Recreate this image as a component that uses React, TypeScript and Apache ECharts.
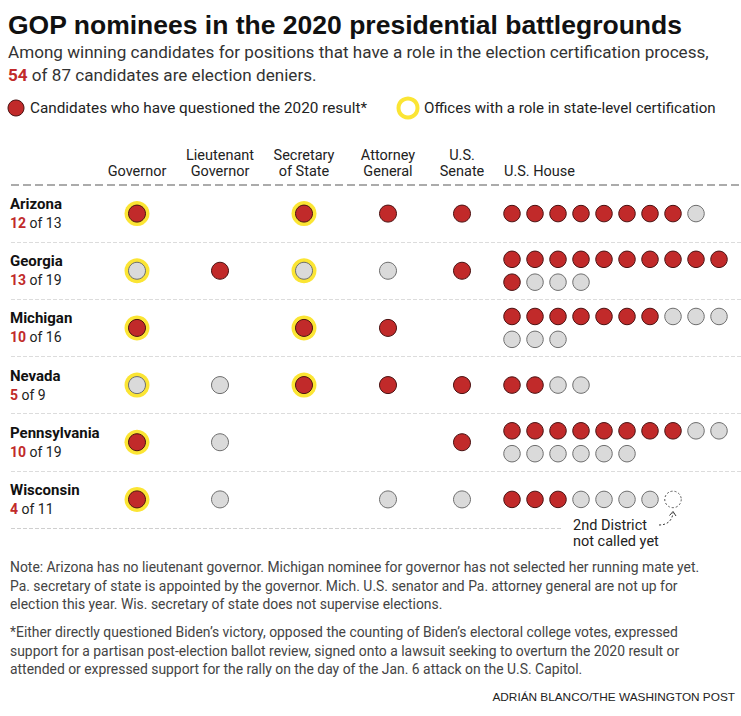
import React, { useEffect, useRef } from 'react';
import * as echarts from 'echarts';

// ---------- data ----------
const STATES = ['Arizona', 'Georgia', 'Michigan', 'Nevada', 'Pennsylvania', 'Wisconsin'];
const DENIERS = [12, 13, 10, 5, 10, 4];
const TOTALS = [13, 19, 16, 9, 19, 11];
const OFFICES = ['Governor', 'Lieutenant\nGovernor', 'Secretary\nof State', 'Attorney\nGeneral', 'U.S.\nSenate'];
// 'R' = questioned 2020 result, 'N' = did not, '' = no candidate
const GOVERNOR = ['R', 'N', 'R', 'N', 'R', 'R'];
const LT_GOVERNOR = ['', 'R', '', 'N', 'N', 'N'];
const SECRETARY = ['R', 'N', 'R', 'R', '', ''];
const ATTORNEY = ['R', 'N', 'R', 'R', '', 'N'];
const SENATE = ['R', 'R', '', 'R', 'R', 'N'];
const OFFICE_STATUS = [GOVERNOR, LT_GOVERNOR, SECRETARY, ATTORNEY, SENATE];
const CERTIFYING = [true, false, true, false, false];
const HOUSE_DENIERS = [8, 11, 7, 2, 8, 3];
const HOUSE_OTHERS = [1, 3, 6, 2, 8, 4];
const HOUSE_UNCALLED = [0, 0, 0, 0, 0, 1];

// ---------- layout & style ----------
const OFFICE_X = [137, 220, 304, 388, 462];
const HOUSE_X0 = 512;
const HOUSE_DX = 23;
const HOUSE_PER_ROW = 10;
const SUBROW = 0.4;
const RED = '#c12a2a';
const RED_STROKE = '#4a1212';
const GRAY = '#dadada';
const GRAY_STROKE = '#6e6e6e';
const YELLOW = '#fbe534';
const BODY = 'Roboto, "Noto Sans", sans-serif';
const NARROW = '"Liberation Sans Narrow", "Liberation Sans", sans-serif';

function buildOption() {
  const rings: number[][] = [];
  const officeRed: number[][] = [];
  const officeGray: number[][] = [];
  OFFICE_STATUS.forEach((col, o) => {
    col.forEach((s, i) => {
      if (!s) return;
      const p = [OFFICE_X[o], i + 0.5];
      if (CERTIFYING[o]) rings.push(p);
      (s === 'R' ? officeRed : officeGray).push(p);
    });
  });
  const houseRed: number[][] = [];
  const houseGray: number[][] = [];
  const houseUncalled: number[][] = [];
  STATES.forEach((_, i) => {
    const list: string[] = [];
    for (let k = 0; k < HOUSE_DENIERS[i]; k++) list.push('R');
    for (let k = 0; k < HOUSE_OTHERS[i]; k++) list.push('N');
    for (let k = 0; k < HOUSE_UNCALLED[i]; k++) list.push('U');
    const rows = Math.ceil(list.length / HOUSE_PER_ROW);
    list.forEach((s, j) => {
      const c = j % HOUSE_PER_ROW;
      const r = Math.floor(j / HOUSE_PER_ROW);
      const p = [HOUSE_X0 + c * HOUSE_DX, i + 0.5 + (r - (rows - 1) / 2) * SUBROW];
      (s === 'R' ? houseRed : s === 'N' ? houseGray : houseUncalled).push(p);
    });
  });

  const totalDeniers = DENIERS.reduce((a, b) => a + b, 0);
  const totalCands = TOTALS.reduce((a, b) => a + b, 0);

  const sepLines: any[] = [];
  for (let k = 0; k <= STATES.length; k++) {
    if (k === 0) {
      sepLines.push([{ coord: [11, k], lineStyle: { color: '#ababab', width: 2 } }, { coord: [741, k] }]);
    } else if (k === STATES.length) {
      sepLines.push([{ coord: [11, k], lineStyle: { color: '#cfcfcf', width: 1 } }, { coord: [562, k] }]);
    } else {
      sepLines.push([{ coord: [11, k], lineStyle: { color: '#dcdcdc', width: 1 } }, { coord: [741, k] }]);
    }
  }

  const txt = (x: number, y: number, text: string, extra: any = {}) => ({
    type: 'text',
    x,
    y,
    silent: true,
    style: {
      text,
      fill: extra.fill || '#222',
      fontFamily: extra.fontFamily || BODY,
      fontSize: extra.fontSize || 14,
      fontWeight: extra.fontWeight || 'normal',
      align: extra.align || 'left',
      textAlign: extra.align || 'left',
      verticalAlign: extra.verticalAlign || 'middle',
      textVerticalAlign: extra.verticalAlign || 'middle',
      lineHeight: extra.lineHeight,
      rich: extra.rich,
    },
  });

  const NOTE_LH = 18.5;
  const graphic: any[] = [
    txt(8, 25, 'GOP nominees in the 2020 presidential battlegrounds', {
      fontFamily: NARROW, fontSize: 26.5, fontWeight: 'bold', fill: '#111',
    }),
    txt(8, 52, 'Among winning candidates for positions that have a role in the election certification process,', {
      fontSize: 17.1, fill: '#333',
    }),
    txt(8, 75, `{red|${totalDeniers}} of ${totalCands} candidates are election deniers.`, {
      fontSize: 17.1, fill: '#333',
      rich: { red: { fill: RED, color: RED, fontWeight: 'bold', fontSize: 17.1, fontFamily: BODY } },
    }),
    { type: 'circle', silent: true, shape: { cx: 16, cy: 108, r: 8 }, style: { fill: RED, stroke: RED_STROKE, lineWidth: 1 } },
    txt(30, 108, 'Candidates who have questioned the 2020 result*', { fontSize: 15.3, fill: '#222' }),
    { type: 'circle', silent: true, shape: { cx: 408, cy: 108, r: 9.5 }, style: { fill: 'none', stroke: YELLOW, lineWidth: 4 } },
    txt(424, 108, 'Offices with a role in state-level certification', { fontSize: 15.1, fill: '#222' }),
    ...OFFICES.map((o, k) => txt(OFFICE_X[k], 179, o, { align: 'center', verticalAlign: 'bottom', fontSize: 14.5, lineHeight: 16, fill: '#222' })),
    txt(504, 179, 'U.S. House', { verticalAlign: 'bottom', fontSize: 14.5, lineHeight: 16, fill: '#222' }),
    txt(573, 517, '2nd District\nnot called yet', { verticalAlign: 'top', fontSize: 14.5, lineHeight: 16, fill: '#222' }),
    {
      type: 'bezierCurve', silent: true,
      shape: { x1: 659, y1: 525, cpx1: 667, cpy1: 525, cpx2: 672, cpy2: 521, x2: 673, y2: 513 },
      style: { stroke: '#333', lineWidth: 1, lineDash: [2, 2], fill: 'none' },
    },
    {
      type: 'polyline', silent: true,
      shape: { points: [[669.5, 515.5], [673, 511.5], [676, 516]] },
      style: { stroke: '#333', lineWidth: 1, fill: 'none' },
    },
    txt(10, 567 - NOTE_LH / 2, 'Note: Arizona has no lieutenant governor. Michigan nominee for governor has not selected her running mate yet.\nPa. secretary of state is appointed by the governor. Mich. U.S. senator and Pa. attorney general are not up for\nelection this year. Wis. secretary of state does not supervise elections.', {
      verticalAlign: 'top', fontSize: 13.9, lineHeight: NOTE_LH, fill: '#444',
    }),
    txt(10, 632 - NOTE_LH / 2, '*Either directly questioned Biden\u2019s victory, opposed the counting of Biden\u2019s electoral college votes, expressed\nsupport for a partisan post-election ballot review, signed onto a lawsuit seeking to overturn the 2020 result or\nattended or expressed support for the rally on the day of the Jan. 6 attack on the U.S. Capitol.', {
      verticalAlign: 'top', fontSize: 13.9, lineHeight: NOTE_LH, fill: '#444',
    }),
    txt(735, 697, 'ADRI\u00c1N BLANCO/THE WASHINGTON POST', { align: 'right', fontFamily: NARROW, fontSize: 11.8, fill: '#222' }),
  ];

  const dot = (name: string, data: number[][], size: number, fill: string, stroke: string, extra: any = {}) => ({
    type: 'scatter',
    name,
    data,
    symbol: 'circle',
    symbolSize: size,
    silent: true,
    z: extra.z || 3,
    itemStyle: { color: fill, borderColor: stroke, borderWidth: 1, opacity: 1, ...(extra.itemStyle || {}) },
  });

  return {
    animation: false,
    backgroundColor: '#fff',
    textStyle: { fontFamily: BODY },
    grid: { left: 0, right: 0, top: 185, bottom: 188, containLabel: false },
    xAxis: { type: 'value', min: 0, max: 741, show: false },
    yAxis: [
      { type: 'value', min: 0, max: STATES.length, inverse: true, show: false },
      {
        type: 'category',
        data: STATES,
        inverse: true,
        position: 'left',
        axisLine: { show: false },
        axisTick: { show: false },
        splitLine: { show: false },
        axisLabel: {
          align: 'left',
          margin: -10,
          formatter: (v: string) => {
            const i = STATES.indexOf(v);
            return `{name|${v}}\n{num|${DENIERS[i]}}{of| of ${TOTALS[i]}}`;
          },
          rich: {
            name: { fontFamily: BODY, fontWeight: 'bold', fontSize: 15, color: '#111', lineHeight: 19 },
            num: { fontFamily: BODY, fontWeight: 'bold', fontSize: 14, color: RED, lineHeight: 19 },
            of: { fontFamily: BODY, fontSize: 14, color: '#222', lineHeight: 19 },
          },
        },
      },
    ],
    graphic,
    series: [
      {
        type: 'scatter', data: [], silent: true,
        markLine: { silent: true, symbol: ['none', 'none'], label: { show: false }, data: sepLines },
      },
      dot('rings', rings, 25, YELLOW, YELLOW, { z: 2, itemStyle: { borderWidth: 0 } }),
      dot('officeRed', officeRed, 17, RED, RED_STROKE),
      dot('officeGray', officeGray, 17, GRAY, GRAY_STROKE),
      dot('houseRed', houseRed, 16.5, RED, RED_STROKE),
      dot('houseGray', houseGray, 16.5, GRAY, GRAY_STROKE),
      dot('houseUncalled', houseUncalled, 16.5, '#fff', '#555', { itemStyle: { borderType: [2, 2] } }),
    ],
  };
}

export default function App() {
  const ref = useRef<HTMLDivElement>(null);
  useEffect(() => {
    const chart = echarts.init(ref.current!, null, { renderer: 'svg' });
    chart.setOption(buildOption() as any);
    return () => chart.dispose();
  }, []);
  return (
    <div
      ref={ref}
      style={{ position: 'absolute', left: 0, top: 0, width: 741, height: 716, background: '#fff' }}
    />
  );
}
